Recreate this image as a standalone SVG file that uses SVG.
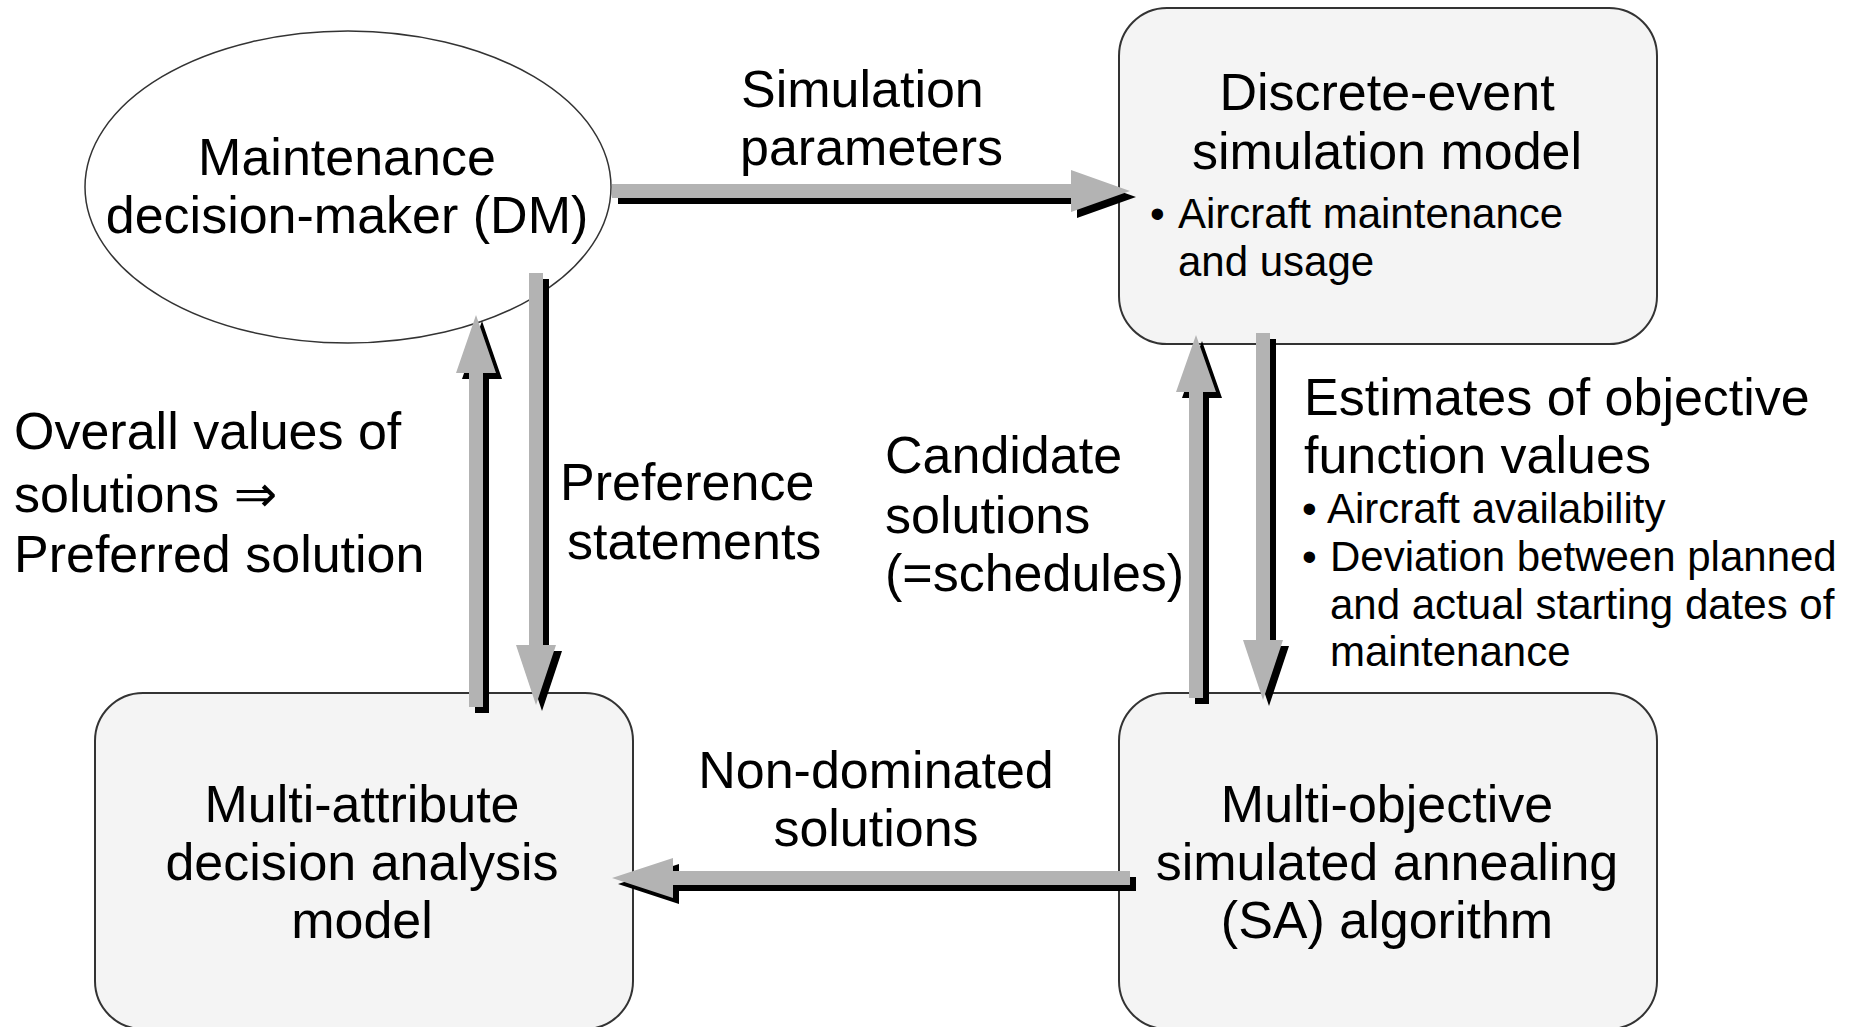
<svg xmlns="http://www.w3.org/2000/svg" width="1862" height="1027" viewBox="0 0 1862 1027">
<style>
.t{font-family:"Liberation Sans","DejaVu Sans",Arial,sans-serif;font-size:52px;fill:#000}
.s{font-family:"Liberation Sans","DejaVu Sans",Arial,sans-serif;font-size:42px;fill:#000}
.c{text-anchor:middle}
.box{fill:#f4f4f4;stroke:#333;stroke-width:2}
.sh{fill:#000}
.ar{fill:#b3b3b3}
</style>
<rect width="1862" height="1027" fill="#fff"/>
<g id="dm">
<ellipse cx="348" cy="187" rx="263" ry="156" fill="#fff" stroke="#333" stroke-width="1.5"/>
<text class="t c" x="347" y="175">Maintenance</text>
<text class="t c" x="347" y="233">decision-maker (DM)</text>
</g>
<g id="des">
<rect class="box" x="1119" y="8" width="538" height="336" rx="48" ry="48"/>
<text class="t c" x="1387" y="110">Discrete-event</text>
<text class="t c" x="1387" y="169">simulation model</text>
<text class="s" x="1150" y="228">•</text>
<text class="s" x="1178" y="228">Aircraft maintenance</text>
<text class="s" x="1178" y="276">and usage</text>
</g>
<g id="mada">
<rect class="box" x="95" y="693" width="538" height="336" rx="48" ry="48"/>
<text class="t c" x="362" y="822">Multi-attribute</text>
<text class="t c" x="362" y="880">decision analysis</text>
<text class="t c" x="362" y="938">model</text>
</g>
<g id="mosa">
<rect class="box" x="1119" y="693" width="538" height="336" rx="48" ry="48"/>
<text class="t c" x="1387" y="822">Multi-objective</text>
<text class="t c" x="1387" y="880">simulated annealing</text>
<text class="t c" x="1387" y="938">(SA) algorithm</text>
</g>
<g id="connectors">
<defs>
<polygon id="a1" points="612,184 1071,184 1071,170 1130,191 1071,212 1071,198 612,198"/>
<polygon id="a2" points="529,273 543,273 543,645 556,645 536,705 516,645 529,645"/>
<polygon id="a3" points="469,707 483,707 483,373 496,373 476,315 456,373 469,373"/>
<polygon id="a4" points="1189,698 1203,698 1203,392 1216,392 1196,335 1176,392 1189,392"/>
<polygon id="a5" points="1256,333 1270,333 1270,640 1283,640 1263,700 1243,640 1256,640"/>
<polygon id="a6" points="1130,871 1130,885 673,885 673,898 612,878 673,858 673,871"/>
</defs>
<g class="sh" transform="translate(6,6)">
<use href="#a1"/><use href="#a2"/><use href="#a3"/><use href="#a4"/><use href="#a5"/><use href="#a6"/>
</g>
<g class="ar">
<use href="#a1"/><use href="#a2"/><use href="#a3"/><use href="#a4"/><use href="#a5"/><use href="#a6"/>
</g>
</g>
<g id="labels">
<text class="t" x="741" y="107">Simulation</text>
<text class="t" x="740" y="165">parameters</text>
<text class="t" x="14" y="449">Overall values of</text>
<text class="t" x="14" y="512">solutions ⇒</text>
<text class="t" x="14" y="572">Preferred solution</text>
<text class="t" x="560" y="500">Preference</text>
<text class="t" x="567" y="559">statements</text>
<text class="t" x="885" y="473">Candidate</text>
<text class="t" x="885" y="533">solutions</text>
<text class="t" x="885" y="591">(=schedules)</text>
<text class="t" x="1304" y="415">Estimates of objective</text>
<text class="t" x="1304" y="473">function values</text>
<text class="s" x="1302" y="523">•</text>
<text class="s" x="1327" y="523">Aircraft availability</text>
<text class="s" x="1302" y="571">•</text>
<text class="s" x="1330" y="571">Deviation between planned</text>
<text class="s" x="1330" y="619">and actual starting dates of</text>
<text class="s" x="1330" y="666">maintenance</text>
<text class="t c" x="876" y="788">Non-dominated</text>
<text class="t c" x="876" y="846">solutions</text>
</g>
</svg>
